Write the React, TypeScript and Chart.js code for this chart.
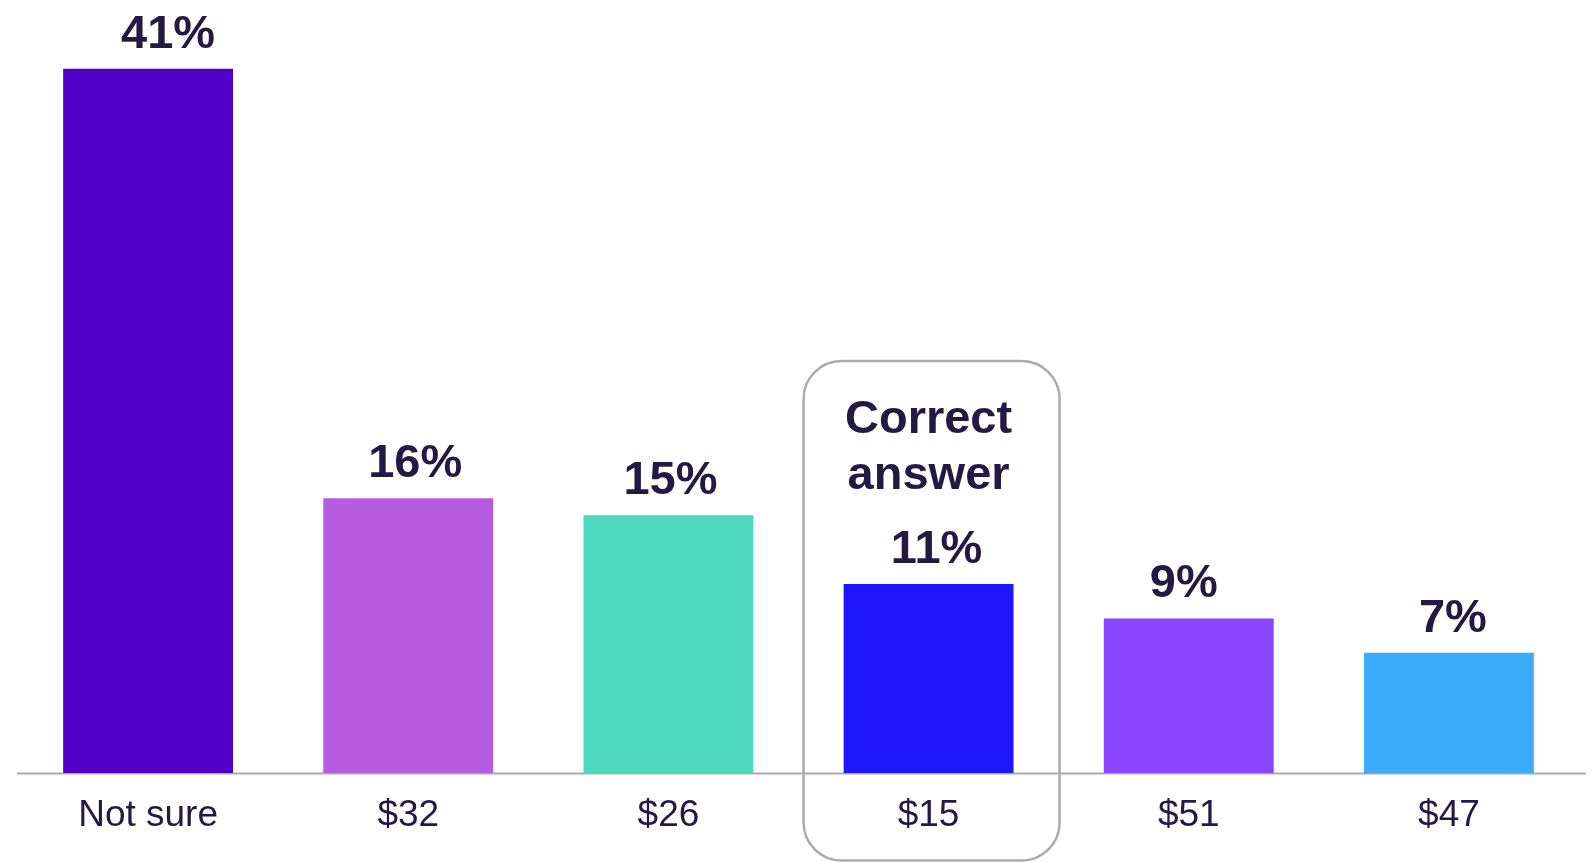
import React, { useEffect, useRef } from "react";
import { Chart, registerables } from "chart.js";

Chart.register(...registerables);

// ---- data ----
const categories = ["Not sure", "$32", "$26", "$15", "$51", "$47"];
const shares = [41, 16, 15, 11, 9, 7];
const barColors = ["#5000C8", "#B75BE1", "#4ED8BF", "#2015FF", "#8B45FF", "#3BABFA"];
const correctIndex = 3;
const correctLabel = ["Correct", "answer"];

// ---- styling ----
const labelNudgeX = [20, 7, 2, 8, -5, 4];
const TEXT = "#231942";
const FONT = "'Liberation Sans', Arial, Helvetica, sans-serif";
const GRAY = "#ababab";

const overlayPlugin = {
  id: "overlay",
  beforeDatasetsDraw(chart: any) {
    const ctx = chart.ctx;
    const area = chart.chartArea;
    ctx.save();
    ctx.strokeStyle = GRAY;
    ctx.lineWidth = 2;
    ctx.beginPath();
    ctx.moveTo(area.left - 1, area.bottom + 0.5);
    ctx.lineTo(chart.width - 8, area.bottom + 0.5);
    ctx.stroke();
    ctx.restore();
  },
  afterDatasetsDraw(chart: any) {
    const ctx = chart.ctx;
    const meta = chart.getDatasetMeta(0);
    ctx.save();
    ctx.fillStyle = TEXT;
    ctx.textAlign = "center";
    ctx.textBaseline = "alphabetic";
    ctx.font = `bold 47px ${FONT}`;
    meta.data.forEach((bar: any, i: number) => {
      ctx.fillText(`${shares[i]}%`, bar.x + labelNudgeX[i], bar.y - 21);
    });

    // correct answer callout
    const cb = meta.data[correctIndex];
    const cx = cb.x + 3;
    ctx.fillText(correctLabel[0], cx - 3, cb.y - 151);
    ctx.fillText(correctLabel[1], cx - 3, cb.y - 95);

    const w = 256;
    const top = cb.y - 223;
    const bottom = chart.height - 1.5;
    ctx.strokeStyle = GRAY;
    ctx.lineWidth = 2.5;
    ctx.beginPath();
    (ctx as any).roundRect(cx - w / 2, top, w, bottom - top, 38);
    ctx.stroke();
    ctx.restore();
  },
};

export default function App() {
  const ref = useRef<HTMLCanvasElement>(null);
  useEffect(() => {
    if (!ref.current) return;
    const chart = new Chart(ref.current, {
      type: "bar",
      data: {
        labels: categories,
        datasets: [
          {
            data: shares,
            backgroundColor: barColors,
            borderWidth: 0,
            categoryPercentage: 1,
            barPercentage: 0.653,
          },
        ],
      },
      options: {
        responsive: false,
        animation: false,
        devicePixelRatio: 1,
        layout: { padding: { left: 18, right: 15, top: 0, bottom: 0 } },
        plugins: {
          legend: { display: false },
          tooltip: { enabled: false },
        },
        scales: {
          x: {
            grid: { display: false, drawTicks: false, tickLength: 0 },
            border: { display: false },
            ticks: {
              color: TEXT,
              font: { family: FONT, size: 37 },
              padding: 21,
              maxRotation: 0,
              autoSkip: false,
            },
            afterFit: (axis: any) => {
              axis.height = 89;
            },
          },
          y: { display: false, min: 0, max: 45 },
        },
      },
      plugins: [overlayPlugin],
    });
    return () => chart.destroy();
  }, []);
  return (
    <div style={{ position: "absolute", left: 0, top: 0, width: 1594, height: 862, background: "#fff" }}>
      <canvas ref={ref} width={1594} height={862} style={{ display: "block" }} />
    </div>
  );
}
